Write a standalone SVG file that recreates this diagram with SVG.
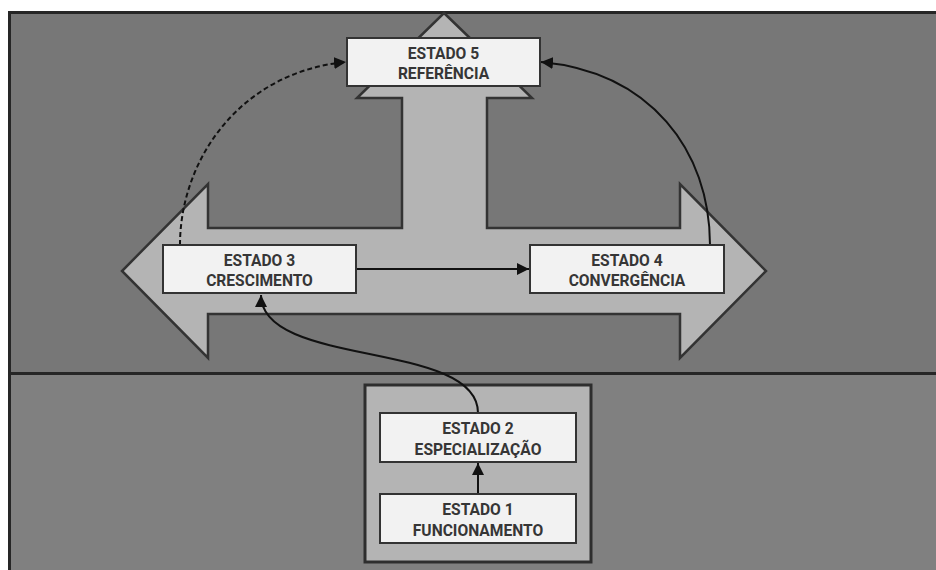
<svg xmlns="http://www.w3.org/2000/svg" width="936" height="570" viewBox="0 0 936 570">
  <style>
    .panel-top { fill: #777777; stroke: #262626; stroke-width: 3; }
    .panel-bottom { fill: #808080; stroke: #262626; stroke-width: 3; }
    .bigarrow { fill: #b4b4b4; stroke: #333333; stroke-width: 2.5; stroke-linejoin: miter; }
    .group-box { fill: #b4b4b4; stroke: #2e2e2e; stroke-width: 3; }
    .box { fill: #f2f2f2; stroke: #333333; stroke-width: 2; }
    .label { font-family: Roboto, "Liberation Sans", sans-serif; font-weight: bold; font-size: 15.6px; fill: #363636; text-anchor: middle; }
    .edge { fill: none; stroke: #111111; stroke-width: 2; }
    .dashed { stroke-dasharray: 5 3; }
  </style>
  <defs>
    <marker id="arrow" viewBox="0 0 10 10" refX="10" refY="5" markerWidth="6" markerHeight="6" orient="auto" markerUnits="strokeWidth">
      <path d="M0,0 L10,5 L0,10 z" fill="#111111"/>
    </marker>
  </defs>

  <rect width="936" height="570" fill="#ffffff"/>

  <!-- background panels -->
  <rect class="panel-bottom" x="9.5" y="373.5" width="940" height="210"/>
  <rect class="panel-top" x="9.5" y="12.5" width="940" height="361"/>

  <!-- three-way arrow -->
  <polygon class="bigarrow" points="444,13 532,98 487,98 487,228 680,228 680,184 766,271 680,358 680,314 208,314 208,358 122,271 208,184 208,228 402,228 402,98 357,98"/>

  <!-- lower container -->
  <g id="base-group">
    <rect class="group-box" x="365" y="385" width="226" height="177"/>
  </g>

  <!-- connectors -->
  <g id="connectors">
    <path class="edge" d="M478,494 L478,463" marker-end="url(#arrow)"/>
    <path class="edge" d="M478,413 C478,340 261,368 261,295" marker-end="url(#arrow)"/>
    <path class="edge" d="M356,269 L529,269" marker-end="url(#arrow)"/>
    <path class="edge dashed" d="M180,245 C180,160 240,72 346,62" marker-end="url(#arrow)"/>
    <path class="edge" d="M710,245 C710,150 650,72 541,62" marker-end="url(#arrow)"/>
  </g>

  <g id="estado5">
    <rect class="box" x="347" y="38" width="193" height="48"/>
    <text class="label" x="443.5" y="59">ESTADO 5</text>
    <text class="label" x="443.5" y="79">REFERÊNCIA</text>
  </g>

  <g id="estado3">
    <rect class="box" x="163" y="245" width="193" height="48"/>
    <text class="label" x="259.5" y="266">ESTADO 3</text>
    <text class="label" x="259.5" y="286">CRESCIMENTO</text>
  </g>

  <g id="estado4">
    <rect class="box" x="530" y="245" width="194" height="48"/>
    <text class="label" x="627" y="266">ESTADO 4</text>
    <text class="label" x="627" y="286">CONVERGÊNCIA</text>
  </g>

  <g id="estado2">
    <rect class="box" x="380" y="413" width="196" height="49"/>
    <text class="label" x="478" y="434">ESTADO 2</text>
    <text class="label" x="478" y="455">ESPECIALIZAÇÃO</text>
  </g>

  <g id="estado1">
    <rect class="box" x="380" y="494" width="196" height="49"/>
    <text class="label" x="478" y="515">ESTADO 1</text>
    <text class="label" x="478" y="536">FUNCIONAMENTO</text>
  </g>
</svg>
